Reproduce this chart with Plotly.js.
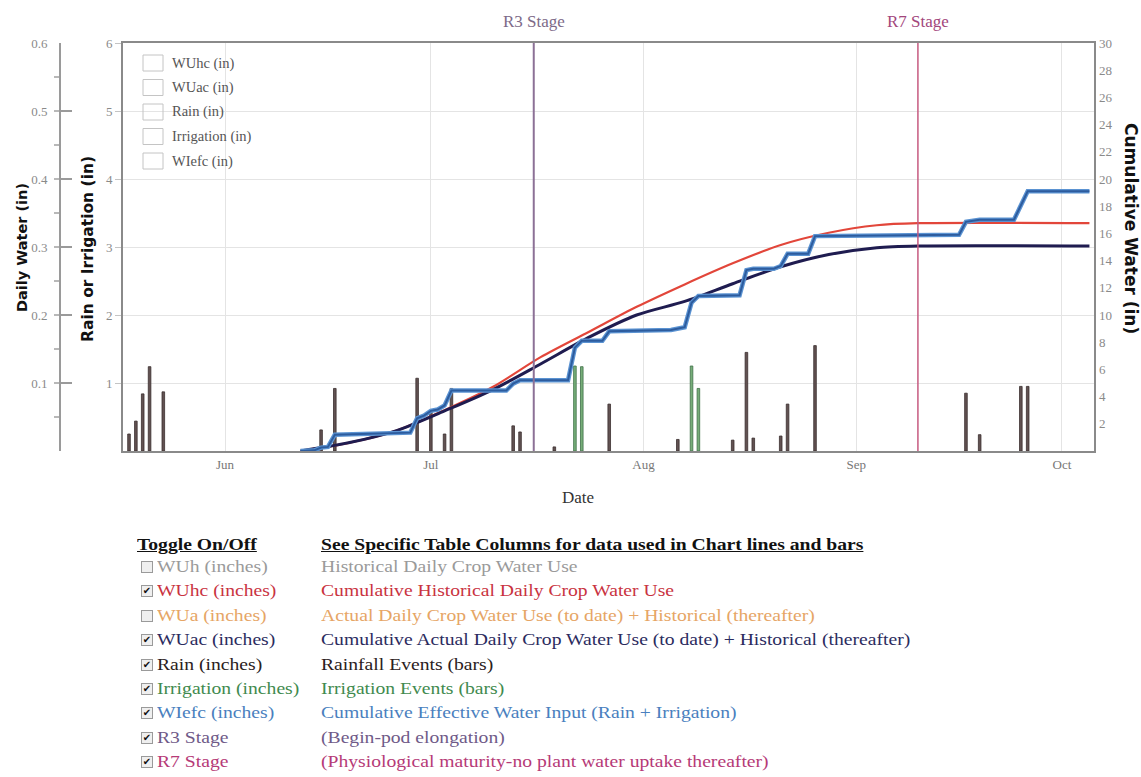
<!DOCTYPE html>
<html>
<head>
<meta charset="utf-8">
<script src="https://cdn.plot.ly/plotly-3.0.1.min.js"></script>
<style>
  html, body { margin:0; padding:0; background:#fff; width:1141px; height:777px; overflow:hidden; }
  #chart { position:absolute; left:0; top:0; width:1141px; height:520px; }
  #table { position:absolute; left:0; top:0; width:1141px; height:777px; font-family:"Liberation Serif","DejaVu Serif",serif; font-size:16.5px; pointer-events:none; }
  .cell { position:absolute; white-space:nowrap; line-height:20px; transform-origin:left center; transform:scaleX(1.19); }
  .hdr { font-weight:bold; text-decoration:underline; color:#111; }
  .box { position:absolute; width:10px; height:10px; border:1px solid #9a9a9a; background:#efefef; font-family:"DejaVu Sans",sans-serif; font-size:10px; line-height:10px; text-align:center; color:#111; }
</style>
</head>
<body>
<div id="chart"></div>
<div id="table"></div>
<script>
// ---------------- data ----------------
const rainDates = ['2014-05-18','2014-05-19','2014-05-20','2014-05-21','2014-05-23','2014-06-15','2014-06-17','2014-06-29','2014-07-01','2014-07-03','2014-07-04','2014-07-13','2014-07-14','2014-07-19','2014-07-27','2014-08-06','2014-08-14','2014-08-16','2014-08-17','2014-08-21','2014-08-22','2014-08-26','2014-09-17','2014-09-19','2014-09-25','2014-09-26'];
const rainIn    = [0.25,0.44,0.84,1.24,0.87,0.31,0.92,1.07,0.59,0.25,0.92,0.37,0.28,0.06,0.69,0.17,0.16,1.45,0.19,0.22,0.69,1.55,0.85,0.24,0.95,0.95];

const irrDates = ['2014-07-22','2014-07-23','2014-08-08','2014-08-09'];
const irrIn    = [1.25,1.24,1.25,0.92];

const wuhcDates = ['2014-06-12','2014-06-19','2014-06-26','2014-07-03','2014-07-10','2014-07-17','2014-07-24','2014-07-31','2014-08-07','2014-08-14','2014-08-21','2014-08-28','2014-09-04','2014-09-10','2014-10-05'];
const wuhcIn    = [0, 0.6, 1.5, 3.0, 4.7, 6.9, 8.75, 10.6, 12.25, 13.8, 15.15, 16.05, 16.6, 16.75, 16.75];

const wuacDates = ['2014-06-12','2014-06-19','2014-06-26','2014-07-03','2014-07-10','2014-07-17','2014-07-24','2014-07-31','2014-08-07','2014-08-14','2014-08-21','2014-08-28','2014-09-04','2014-09-10','2014-10-05'];
const wuacIn    = [0, 0.6, 1.5, 2.95, 4.5, 6.4, 8.35, 10.0, 11.0, 12.3, 13.55, 14.45, 14.95, 15.07, 15.07];

const wiefcDates = ['2014-06-12','2014-06-14','2014-06-15','2014-06-16','2014-06-17','2014-06-28','2014-06-29','2014-06-30','2014-07-01','2014-07-02','2014-07-03','2014-07-04','2014-07-12','2014-07-13','2014-07-14','2014-07-21','2014-07-22','2014-07-23','2014-07-26','2014-07-27','2014-08-05','2014-08-06','2014-08-07','2014-08-08','2014-08-09','2014-08-15','2014-08-16','2014-08-17','2014-08-20','2014-08-21','2014-08-22','2014-08-25','2014-08-26','2014-09-16','2014-09-17','2014-09-19','2014-09-24','2014-09-25','2014-09-26','2014-10-05'];
const wiefcIn    = [0, 0.05, 0.25, 0.3, 1.2, 1.35, 2.4, 2.6, 2.95, 3.05, 3.35, 4.45, 4.45, 4.95, 5.2, 5.2, 7.6, 8.1, 8.1, 8.8, 8.9, 9.0, 9.1, 10.9, 11.4, 11.45, 13.3, 13.4, 13.4, 13.6, 14.5, 14.5, 15.8, 15.9, 16.85, 17.0, 17.0, 18.05, 19.1, 19.1];

const stageNames = ['R3 Stage','R7 Stage'];
const stageDates = ['2014-07-16','2014-09-10'];

const dailyTicks = [0, 0.1, 0.2, 0.3, 0.4, 0.5, 0.6];
const dailyTickText = ['', '0.1', '0.2', '0.3', '0.4', '0.5', '0.6'];
const rainTicks = [1, 2, 3, 4, 5, 6];
const cumTicks = [2,4,6,8,10,12,14,16,18,20,22,24,26,28,30];

const legendLabels = ['WUhc (in)','WUac (in)','Rain (in)','Irrigation (in)','WIefc (in)'];

const toggleNames = ['WUh (inches)','WUhc (inches)','WUa (inches)','WUac (inches)','Rain (inches)','Irrigation (inches)','WIefc (inches)','R3 Stage','R7 Stage'];
const toggleDesc  = ['Historical Daily Crop Water Use','Cumulative Historical Daily Crop Water Use','Actual Daily Crop Water Use (to date) + Historical (thereafter)','Cumulative Actual Daily Crop Water Use (to date) + Historical (thereafter)','Rainfall Events (bars)','Irrigation Events (bars)','Cumulative Effective Water Input (Rain + Irrigation)','(Begin-pod elongation)','(Physiological maturity-no plant water uptake thereafter)'];
const toggleOn    = [false,true,false,true,true,true,true,true,true];
const headerLeft  = 'Toggle On/Off';
const headerRight = 'See Specific Table Columns for data used in Chart lines and bars';

// ---------------- styles ----------------
const SERIF = 'Liberation Serif, DejaVu Serif, serif';
const rowColors = ['#9a9a9a','#c9333f','#e6a565','#2b2b5e','#2a2020','#3f8a4e','#4a7fbe','#6f5a88','#b63a77'];
const PW = 1094;                  // paper width (px) with l=0, r=47
const pxX = px => px / PW;
const pxY = py => (451 - py) / 408;
const barW = 0.38 * 86400000;

const traces = [
  { type:'bar', x:rainDates, y:rainIn, width:barW, yaxis:'y',
    marker:{color:'#625252', line:{color:'#3a2e2e', width:0.8}}, hoverinfo:'x+y' },
  { type:'bar', x:irrDates, y:irrIn, width:barW, yaxis:'y',
    marker:{color:'#76ad78', line:{color:'#3f7048', width:0.8}}, hoverinfo:'x+y' },
  { type:'scatter', mode:'lines', x:wuhcDates, y:wuhcIn, yaxis:'y2',
    line:{color:'#e2463a', width:2.2, shape:'spline', smoothing:0.8} },
  { type:'scatter', mode:'lines', x:wuacDates, y:wuacIn, yaxis:'y2',
    line:{color:'#1f1c50', width:3, shape:'spline', smoothing:0.8} },
  { type:'scatter', mode:'lines', x:wiefcDates, y:wiefcIn, yaxis:'y2',
    line:{color:'#5b93d2', width:4.5} },
  { type:'scatter', mode:'lines', x:wiefcDates, y:wiefcIn, yaxis:'y2',
    line:{color:'#2d5c9e', width:2} },
  { type:'scatter', mode:'lines', x:[], y:[], yaxis:'y3', hoverinfo:'skip' }
];

const shapes = [];
const annotations = [];
const stageColors = ['#8c7196','#c65a80'];
const stageWidths = [2, 1.5];
const stageLabelColors = ['#7d6a88','#a2467c'];
stageDates.forEach((d,i) => {
  shapes.push({type:'line', xref:'x', yref:'paper', x0:d, x1:d, y0:0, y1:1,
    line:{color:stageColors[i], width:stageWidths[i]}});
  annotations.push({xref:'x', yref:'paper', x:d, y:pxY(22), text:stageNames[i], showarrow:false,
    xanchor:'center', yanchor:'middle', font:{family:SERIF, size:17, color:stageLabelColors[i]}});
});

// in-plot legend with empty boxes
legendLabels.forEach((t,i) => {
  const cy = 63 + i*24.5;
  shapes.push({type:'rect', xref:'paper', yref:'paper', x0:pxX(143), x1:pxX(163), y0:pxY(cy+8), y1:pxY(cy-8),
    line:{color:'#c4c4c4', width:1}, fillcolor:'rgba(255,255,255,0)'});
  annotations.push({xref:'paper', yref:'paper', x:pxX(170), y:pxY(cy), text:t, showarrow:false,
    xanchor:'left', yanchor:'middle', font:{family:SERIF, size:14.5, color:'#555'}});
});

// axis titles
annotations.push({xref:'paper', yref:'paper', x:pxX(22), y:pxY(248), text:'Daily Water (in)', textangle:-90, showarrow:false,
  xanchor:'center', yanchor:'middle', font:{family:'DejaVu Sans', size:14.5, color:'#111', weight:'bold'}});
annotations.push({xref:'paper', yref:'paper', x:pxX(88), y:pxY(249), text:'Rain or Irrigation (in)', textangle:-90, showarrow:false,
  xanchor:'center', yanchor:'middle', font:{family:'DejaVu Sans', size:15.5, color:'#111', weight:'bold'}});
annotations.push({xref:'paper', yref:'paper', x:pxX(1131), y:pxY(228), text:'Cumulative Water (in)', textangle:90, showarrow:false,
  xanchor:'center', yanchor:'middle', font:{family:'DejaVu Sans', size:17, color:'#111', weight:'bold'}});
annotations.push({xref:'paper', yref:'paper', x:pxX(578), y:pxY(497), text:'Date', showarrow:false,
  xanchor:'center', yanchor:'middle', font:{family:SERIF, size:17, color:'#333'}});

const layout = {
  width:1141, height:520,
  margin:{l:0, r:47, t:43, b:69},
  paper_bgcolor:'#fff', plot_bgcolor:'#fff',
  font:{family:SERIF, color:'#888'},
  showlegend:false, barmode:'overlay', bargap:0,
  xaxis:{type:'date', domain:[pxX(123), 1], range:['2014-05-17 03:00','2014-10-05 16:00'],
    tick0:'2014-06-01', dtick:'M1', tickformat:'%b', ticks:'', showgrid:true, gridcolor:'#e4e4e4', gridwidth:1,
    showline:true, mirror:true, linecolor:'#8a8a8a', linewidth:2, zeroline:false,
    tickfont:{family:SERIF, size:13, color:'#777'}},
  yaxis:{range:[0,6], tickmode:'array', tickvals:rainTicks, showgrid:true, gridcolor:'#e4e4e4',
    ticks:'outside', ticklen:6, tickcolor:'#c4c4c4', showline:true, mirror:true, linecolor:'#8a8a8a', linewidth:2,
    zeroline:false, tickfont:{family:SERIF, size:13, color:'#8a8a8a'}},
  yaxis2:{overlaying:'y', side:'right', range:[0,30], tickmode:'array', tickvals:cumTicks, showgrid:false,
    ticks:'', showline:false, zeroline:false, ticklabelstandoff:4, tickfont:{family:SERIF, size:13, color:'#8a8a8a'}},
  yaxis3:{overlaying:'y', anchor:'free', position:pxX(60), side:'left', range:[0,0.6], tickmode:'array',
    tickvals:dailyTicks, ticktext:dailyTickText, ticks:'inside', ticklen:11, tickwidth:2, tickcolor:'#9a9a9a',
    showline:true, linecolor:'#9a9a9a', linewidth:2, showgrid:false, zeroline:false, ticklabelstandoff:9,
    minor:{dtick:0.05, tick0:0, ticks:'outside', ticklen:5, tickcolor:'#b8b8b8', showgrid:false},
    tickfont:{family:SERIF, size:13, color:'#8a8a8a'}},
  shapes:shapes, annotations:annotations
};

Plotly.newPlot('chart', traces, layout, {displayModeBar:false, staticPlot:true});

// ---------------- toggle table ----------------
const tbl = document.getElementById('table');
function addText(txt, x, cy, cls, color) {
  const s = document.createElement('span');
  s.className = 'cell ' + (cls||'');
  s.textContent = txt;
  s.style.left = x + 'px';
  s.style.top = (cy - 10) + 'px';
  if (color) s.style.color = color;
  tbl.appendChild(s);
  return s;
}
addText(headerLeft, 137, 545, 'hdr');
addText(headerRight, 321, 545, 'hdr');
toggleNames.forEach((n,i) => {
  const cy = 567 + i*24.4;
  const b = document.createElement('span');
  b.className = 'box';
  b.style.left = '141px';
  b.style.top = (cy - 6) + 'px';
  b.textContent = toggleOn[i] ? '\u2714' : '';
  tbl.appendChild(b);
  addText(n, 157, cy, '', rowColors[i]);
  addText(toggleDesc[i], 321, cy, '', rowColors[i]);
});
</script>
</body>
</html>
